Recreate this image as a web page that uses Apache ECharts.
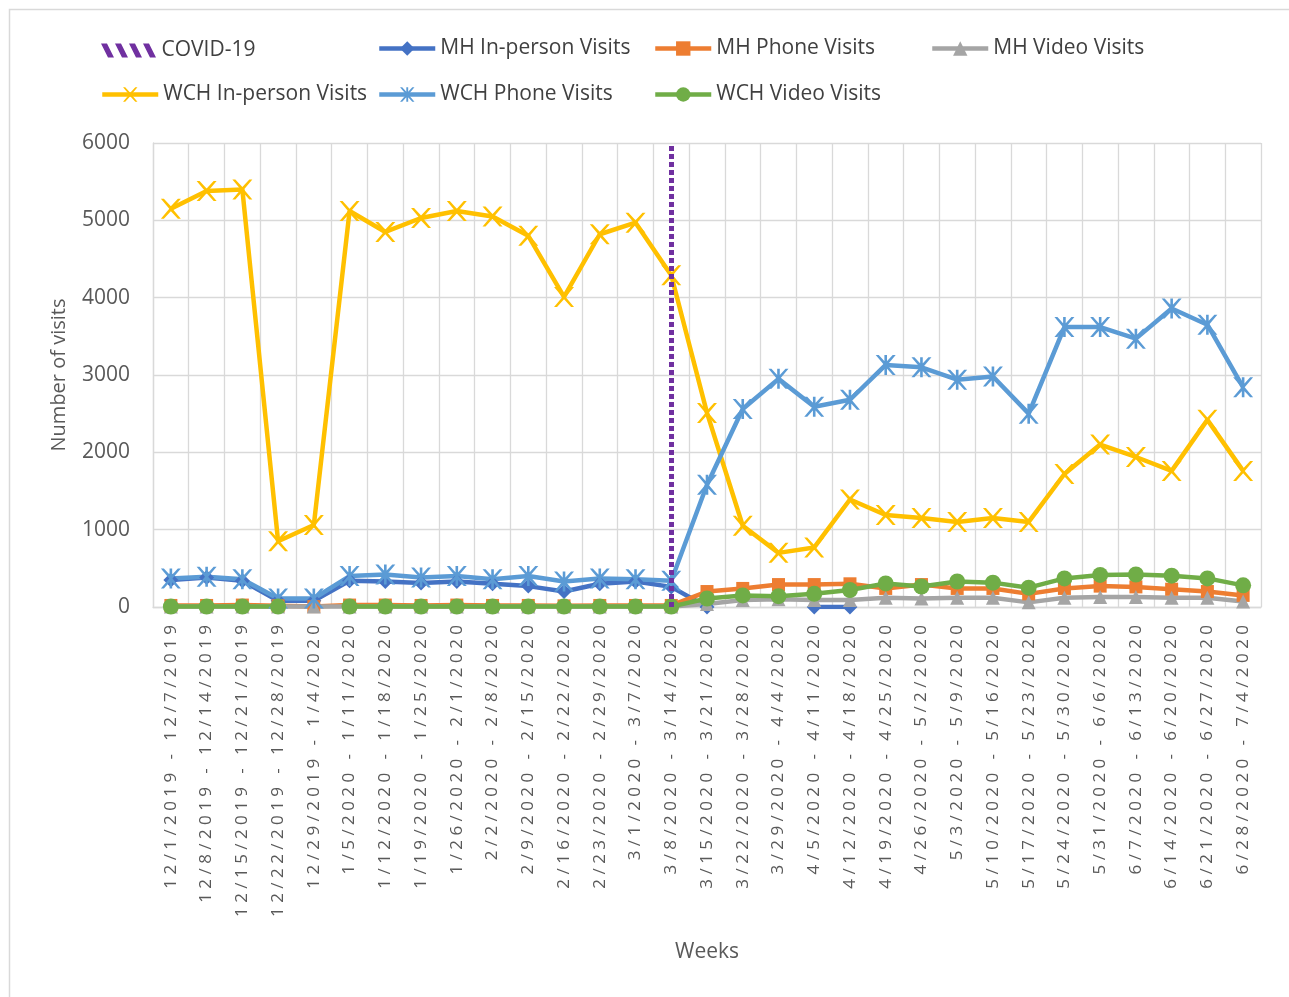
<!DOCTYPE html>
<html>
<head>
<meta charset="utf-8">
<script src="https://cdn.jsdelivr.net/npm/echarts@6/dist/echarts.min.js"></script>
<style>
html,body{margin:0;padding:0;background:#fff;}
#chart{width:1289px;height:997px;}
</style>
</head>
<body>
<div id="chart"></div>
<script>
const weeks = [
  "12/1/2019 - 12/7/2019","12/8/2019 - 12/14/2019","12/15/2019 - 12/21/2019","12/22/2019 - 12/28/2019",
  "12/29/2019 - 1/4/2020","1/5/2020 - 1/11/2020","1/12/2020 - 1/18/2020","1/19/2020 - 1/25/2020",
  "1/26/2020 - 2/1/2020","2/2/2020 - 2/8/2020","2/9/2020 - 2/15/2020","2/16/2020 - 2/22/2020",
  "2/23/2020 - 2/29/2020","3/1/2020 - 3/7/2020","3/8/2020 - 3/14/2020","3/15/2020 - 3/21/2020",
  "3/22/2020 - 3/28/2020","3/29/2020 - 4/4/2020","4/5/2020 - 4/11/2020","4/12/2020 - 4/18/2020",
  "4/19/2020 - 4/25/2020","4/26/2020 - 5/2/2020","5/3/2020 - 5/9/2020","5/10/2020 - 5/16/2020",
  "5/17/2020 - 5/23/2020","5/24/2020 - 5/30/2020","5/31/2020 - 6/6/2020","6/7/2020 - 6/13/2020",
  "6/14/2020 - 6/20/2020","6/21/2020 - 6/27/2020","6/28/2020 - 7/4/2020"
];
const covidWeek = "3/8/2020 - 3/14/2020";

const mhInPerson = [350,380,340,80,80,340,330,310,330,300,270,200,300,330,260,0,null,null,0,0,null,null,null,null,null,null,null,null,null,null,null];
const mhPhone = [20,20,25,15,5,25,25,20,25,20,20,15,20,20,20,200,240,290,290,300,240,290,240,240,170,240,270,260,230,200,150];
const mhVideo = [5,5,5,5,5,5,5,5,5,5,5,5,5,5,5,40,90,100,90,90,120,110,120,120,60,120,130,130,120,120,70];
const wchInPerson = [5150,5380,5400,850,1060,5120,4850,5030,5120,5050,4800,4010,4820,4970,4290,2510,1050,700,770,1390,1190,1150,1100,1150,1100,1720,2100,1940,1760,2420,1760];
const wchPhone = [370,390,360,110,110,400,420,380,400,360,400,330,370,360,340,1580,2560,2950,2590,2680,3130,3100,2940,2980,2500,3620,3620,3470,3860,3650,2840];
const wchVideo = [5,5,5,5,null,5,5,5,5,5,5,5,5,5,5,110,150,140,170,220,305,265,330,315,250,370,415,420,405,370,280];

const FONT = "'Open Sans', 'Liberation Sans', sans-serif";
const xPath = 'path://M0,0 L3,0 L10,7.6 L17,0 L20,0 L11.6,10 L20,20 L17,20 L10,12.4 L3,20 L0,20 L8.4,10 Z';
const starPath = 'path://M0,0 L3,0 L10,7.6 L17,0 L20,0 L11.6,10 L20,20 L17,20 L10,12.4 L3,20 L0,20 L8.4,10 Z M8.7,0 L11.3,0 L11.3,20 L8.7,20 Z';
const hatchPath = 'path://M0,0 L6,0 L13,14 L7,14 Z M14,0 L20,0 L27,14 L21,14 Z M28,0 L34,0 L41,14 L35,14 Z M42,0 L48,0 L55,14 L49,14 Z';

function spaced(s){ return s.split('').join(' '); }

function lineSeries(name, data, color, symbol, size){
  return {
    name: name, type: 'line', data: data,
    symbol: symbol, symbolSize: size,
    lineStyle: {color: color, width: 4.5},
    itemStyle: {color: color},
    emphasis: {disabled: true},
    animation: false
  };
}

const legendBase = {
  orient: 'horizontal', padding: 0, itemWidth: 56, itemHeight: 18, itemGap: 0,
  textStyle: {fontFamily: FONT, fontSize: 21, color: '#404040'},
  lineStyle: {width: 4.5},
  selectedMode: false
};
function leg(name, left, top, icon){
  const d = {name: name};
  if (icon) { d.icon = icon; d.itemStyle = {color: '#7030A0'}; }
  const o = Object.assign({}, legendBase, {left: left, top: top, data: [d]});
  if (icon) o.itemHeight = 14;
  return o;
}

const chart = echarts.init(document.getElementById('chart'), null, {renderer: 'canvas'});
chart.setOption({
  backgroundColor: '#ffffff',
  animation: false,
  graphic: [{
    type: 'rect', left: 7, top: 7, shape: {x: 0, y: 0, width: 1300, height: 1010},
    style: {fill: 'none', stroke: '#d9d9d9', lineWidth: 1.5}, silent: true
  }],
  legend: [
    leg('COVID-19', 101, 40, hatchPath),
    leg('MH In-person Visits', 377, 38),
    leg('MH Phone Visits', 653, 38),
    leg('MH Video Visits', 930, 38),
    leg('WCH In-person Visits', 100, 84),
    leg('WCH Phone Visits', 377, 84),
    leg('WCH Video Visits', 653, 84)
  ],
  grid: {left: 153, right: 28, top: 143, bottom: 390, containLabel: false},
  xAxis: {
    type: 'category', data: weeks, boundaryGap: true,
    name: 'Weeks', nameLocation: 'middle', nameGap: 335,
    nameTextStyle: {fontFamily: FONT, fontSize: 21, color: '#595959'},
    axisLine: {lineStyle: {color: '#d9d9d9', width: 1.3}},
    axisTick: {show: false},
    splitLine: {show: true, lineStyle: {color: '#d9d9d9', width: 1.3}},
    axisLabel: {
      interval: 0, rotate: 90, margin: 18,
      fontFamily: FONT, fontSize: 17, color: '#595959',
      formatter: function(v){ return spaced(v); }
    }
  },
  yAxis: {
    type: 'value', min: 0, max: 6000, interval: 1000,
    name: 'Number of visits', nameLocation: 'middle', nameRotate: 90, nameGap: 84,
    nameTextStyle: {fontFamily: FONT, fontSize: 20, color: '#595959'},
    axisLine: {show: true, lineStyle: {color: '#d9d9d9', width: 1.3}},
    axisTick: {show: false},
    splitLine: {show: true, lineStyle: {color: '#d9d9d9', width: 1.3}},
    axisLabel: {
      margin: 23, fontFamily: FONT, fontSize: 21, color: '#595959',
      formatter: function(v){ return String(v); }
    }
  },
  series: [
    {
      name: 'COVID-19', type: 'line', data: [], symbol: 'none',
      itemStyle: {color: '#7030A0'}, lineStyle: {color: '#7030A0', width: 0},
      markLine: {
        silent: true, symbol: 'none', animation: false,
        label: {show: false},
        lineStyle: {color: '#7030A0', width: 5, type: [5, 3]},
        data: [{xAxis: covidWeek}]
      },
      animation: false
    },
    lineSeries('MH In-person Visits', mhInPerson, '#4472C4', 'diamond', 15),
    lineSeries('MH Phone Visits', mhPhone, '#ED7D31', 'rect', 13),
    lineSeries('MH Video Visits', mhVideo, '#A5A5A5', 'triangle', 14),
    lineSeries('WCH In-person Visits', wchInPerson, '#FFC000', xPath, 20),
    lineSeries('WCH Phone Visits', wchPhone, '#5B9BD5', starPath, 20),
    lineSeries('WCH Video Visits', wchVideo, '#70AD47', 'circle', 16)
  ]
});
</script>
</body>
</html>
